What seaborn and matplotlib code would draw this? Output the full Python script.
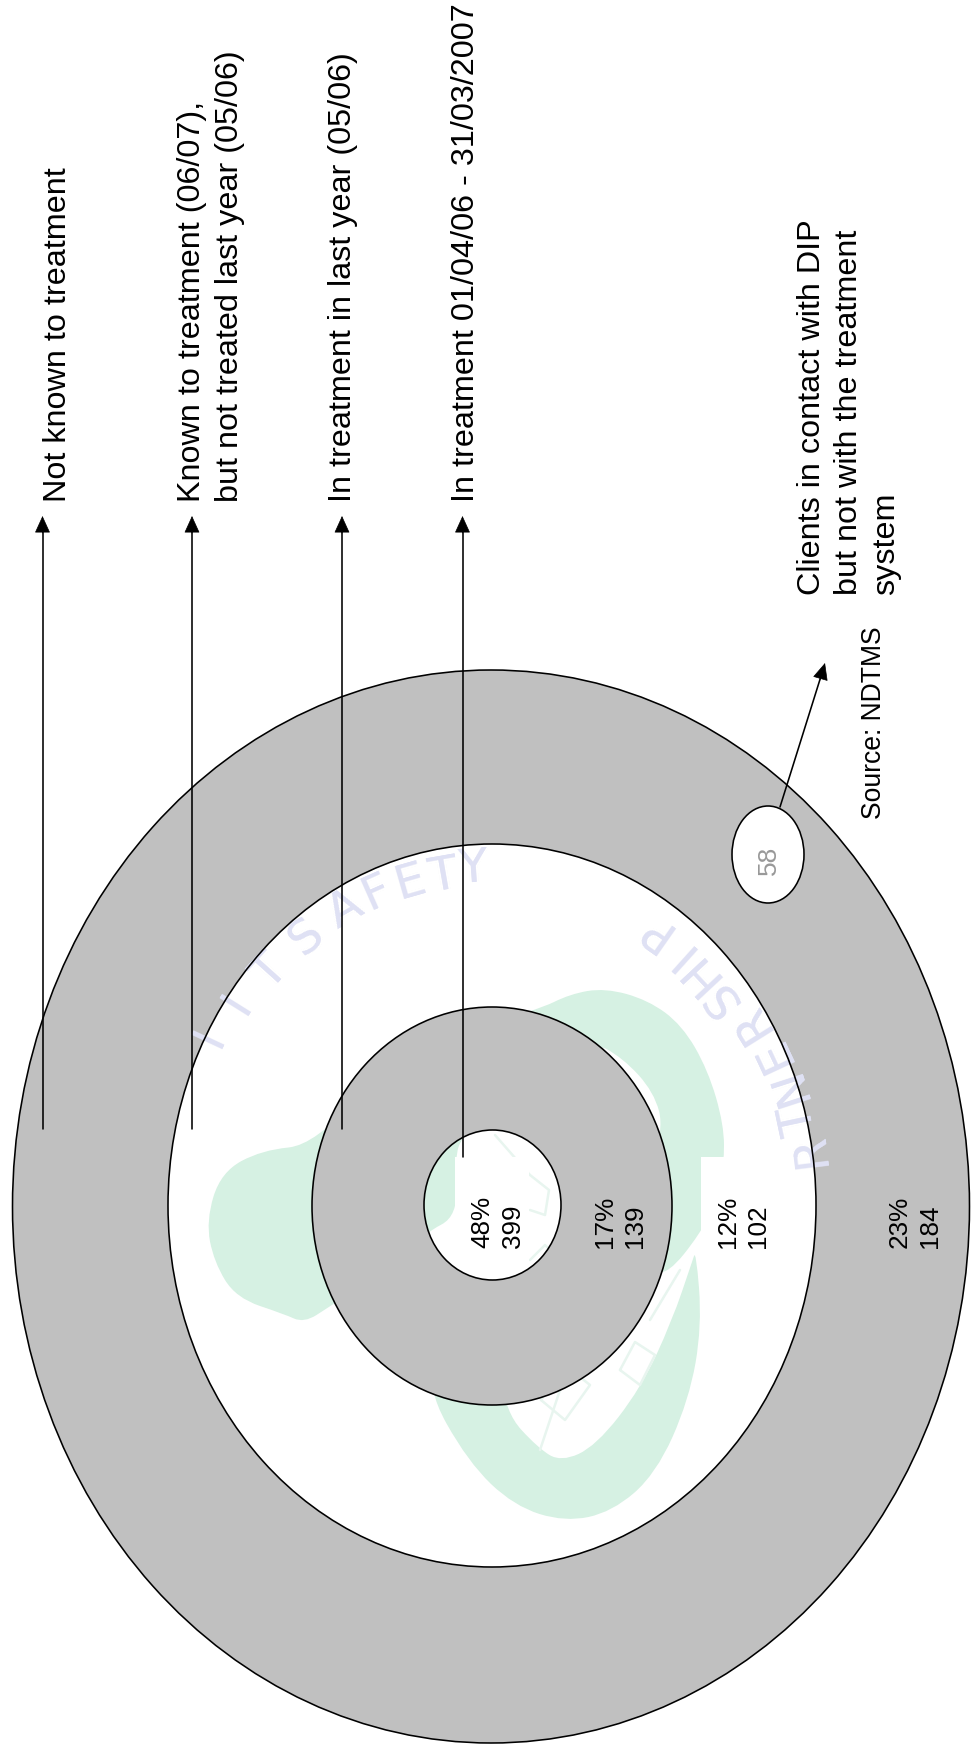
import matplotlib
matplotlib.use("Agg")
import matplotlib.pyplot as plt
import pandas as pd
import seaborn as sns
from matplotlib.patches import Ellipse, PathPatch, Rectangle
from matplotlib.path import Path

# Client groups, innermost ring first
group_percent = ["48%", "17%", "12%", "23%"]
group_count = [399, 139, 102, 184]
dip_only_count = [58]
ring_labels = [
    "Not known to treatment",
    "Known to treatment (06/07),\nbut not treated last year (05/06)",
    "In treatment in last year (05/06)",
    "In treatment 01/04/06 - 31/03/2007",
]
dip_label = "Clients in contact with DIP\nbut not with the treatment\nsystem"
source_note = "Source: NDTMS"

sns.set_theme(style="white")
plt.rcParams["font.family"] = ["Liberation Sans", "DejaVu Sans"]

GREY = "#c0c0c0"
GREEN = "#d6f1e3"
LAVENDER = "#dfe1f4"
HOUSE = "#e8f5ef"
EDGE = 1.15

fig = plt.figure(figsize=(9.71, 17.48), dpi=100)
ax = fig.add_axes([0, 0, 1, 1])
ax.set_xlim(0, 971)
ax.set_ylim(1748, 0)
ax.set_axis_off()


def ring(cx, cy, w, h, fill, z):
    e = Ellipse((cx, cy), w, h, facecolor=fill, edgecolor="none", zorder=z)
    ax.add_patch(e)
    return e


def ring_outline(cx, cy, w, h):
    ax.add_patch(Ellipse((cx, cy), w, h, fill=False, edgecolor="black",
                         linewidth=EDGE, zorder=6))


def rounded_shape(pts):
    """Closed curve that rounds off the corners of a control polygon."""
    mids = [((a[0] + b[0]) / 2, (a[1] + b[1]) / 2)
            for a, b in zip(pts, pts[1:] + pts[:1])]
    verts = [mids[-1]]
    codes = [Path.MOVETO]
    for i, p in enumerate(pts):
        verts += [p, mids[i]]
        codes += [Path.CURVE3, Path.CURVE3]
    return Path(verts, codes)


def watermark(clip, z):
    """Pale logo and lettering that sit behind the rings."""
    body = [(262, 1150), (315, 1145), (400, 1050), (538, 1010), (570, 994),
            (605, 988), (648, 1000), (682, 1025), (708, 1070), (724, 1125),
            (724, 1165), (717, 1200), (700, 1234), (668, 1274), (650, 1270),
            (640, 1200), (664, 1130), (654, 1092), (623, 1058), (590, 1040),
            (540, 1100), (480, 1120), (462, 1137), (455, 1157), (458, 1216),
            (425, 1233), (370, 1280), (329, 1307), (304, 1323), (284, 1314),
            (236, 1298), (214, 1262), (206, 1221), (221, 1172)]
    crescent = [(696, 1250), (702, 1326), (689, 1400), (656, 1474), (612, 1512),
                (565, 1522), (514, 1506), (468, 1462), (425, 1385), (450, 1350),
                (500, 1350), (505, 1412), (538, 1448), (561, 1462), (596, 1446),
                (641, 1388), (672, 1321), (692, 1262)]
    for pts in (body, crescent):
        p = PathPatch(rounded_shape(pts), facecolor=GREEN, edgecolor="none", zorder=z)
        ax.add_patch(p)
        p.set_clip_path(clip)
    house = [
        [(541, 1400), (565, 1420), (590, 1385), (565, 1365), (541, 1400)],
        [(620, 1370), (640, 1385), (655, 1355), (635, 1342), (620, 1370)],
        [(540, 1450), (565, 1375)],
        [(650, 1320), (680, 1270)],
        [(495, 1135), (530, 1175), (549, 1190), (545, 1215), (530, 1210)],
        [(530, 1260), (545, 1245), (555, 1255)],
    ]
    for pts in house:
        xs, ys = zip(*pts)
        ln, = ax.plot(xs, ys, color=HOUSE, lw=1.8, zorder=z + 0.1)
        ln.set_clip_path(clip)
    letters = [
        ("T", 270, 973, 48), ("I", 237, 1003, 58), ("I", 210, 1037, 65),
        ("S", 307, 937, 40), ("A", 345, 910, 30), ("F", 377, 893, 24),
        ("E", 410, 883, 16), ("T", 443, 877, 10), ("Y", 473, 870, 4),
        ("P", 654, 929, 145), ("I", 681, 953, 138), ("H", 698, 972, 133),
        ("S", 721, 996, 128), ("R", 751, 1022, 122), ("E", 774, 1053, 115),
        ("N", 790, 1085, 108), ("T", 800, 1120, 102), ("R", 811, 1150, 97),
    ]
    for ch, x, y, rot in letters:
        t = ax.text(x, y, ch, color=LAVENDER, fontsize=34, rotation=rot,
                    ha="center", va="center", zorder=z + 0.2,
                    family="DejaVu Sans")
        t.set_clip_path(clip)


# Outer band, then the white ring with the logo showing through it
ring(491, 1206.5, 957, 1073, GREY, 1)
third = ring(492, 1205.5, 648, 723, "white", 2)
watermark(third, 2.2)
box_ring = Rectangle((701, 1157), 115, 111, facecolor="white", edgecolor="none", zorder=3)
ax.add_patch(box_ring)
box_ring.set_clip_path(third)

# Grey ring and the white core
ring(492, 1206, 360, 398, GREY, 4)
core = ring(492.5, 1205, 137, 150, "white", 4.2)
watermark(core, 4.3)
box_core = Rectangle((455, 1157), 74, 111, facecolor="white", edgecolor="none", zorder=4.8)
ax.add_patch(box_core)
box_core.set_clip_path(core)

# Small bubble for clients outside the treatment system
ring(768, 854.5, 72, 97, "white", 5)

ring_outline(491, 1206.5, 957, 1073)
ring_outline(492, 1205.5, 648, 723)
ring_outline(492, 1206, 360, 398)
ring_outline(492.5, 1205, 137, 150)
ring_outline(768, 854.5, 72, 97)

# Leader lines running from each ring up to its caption
leaders = pd.DataFrame({
    "x": [42.5, 42.5, 192, 192, 342, 342, 462.5, 462.5, 780, 822],
    "y": [1129, 530, 1129, 530, 1129, 530, 1157, 530, 807, 673],
    "leader": [0, 0, 1, 1, 2, 2, 3, 3, 4, 4],
})
sns.lineplot(data=leaders, x="x", y="y", units="leader", estimator=None, sort=False,
             color="black", linewidth=1.15, legend=False, ax=ax, zorder=7)
ax.set_xlabel("")
ax.set_ylabel("")
head = "-|>,head_length=11,head_width=5"
for start, tip in [((42.5, 533), (42.5, 516)), ((192, 533), (192, 516)),
                   ((342, 533), (342, 516)), ((462.5, 533), (462.5, 516)),
                   ((820, 680), (825, 663))]:
    ax.annotate("", xy=tip, xytext=start, zorder=8,
                arrowprops=dict(arrowstyle=head, mutation_scale=1, color="black",
                                shrinkA=0, shrinkB=0, linewidth=0.5))

# Captions, turned to read along the long side of the page
label_size = 23.3
for x, label in zip([58, 211, 343, 466], ring_labels):
    ax.text(x, 502, label, rotation=90, ha="center", va="bottom", multialignment="left",
            fontsize=label_size, linespacing=1.32, color="black", zorder=9)
ax.text(849, 595, dip_label, rotation=90, ha="center", va="bottom", multialignment="left",
        fontsize=label_size, linespacing=1.32, color="black", zorder=9)
ax.text(874, 819, source_note, rotation=90, ha="center", va="bottom",
        fontsize=19.1, color="black", zorder=9)

# Share and count in each ring
for x, pct, n in zip([498, 620, 743, 915], group_percent, group_count):
    ax.text(x, 1248, f"{pct}\n{n}", rotation=90, ha="center", va="bottom",
            multialignment="left", fontsize=18.8, linespacing=1.33, color="black", zorder=9)
ax.text(769, 875, str(dip_only_count[0]), rotation=90, ha="center", va="bottom",
        fontsize=19, color="#999999", zorder=9)

fig.savefig("out.png", dpi=100, facecolor="white")
